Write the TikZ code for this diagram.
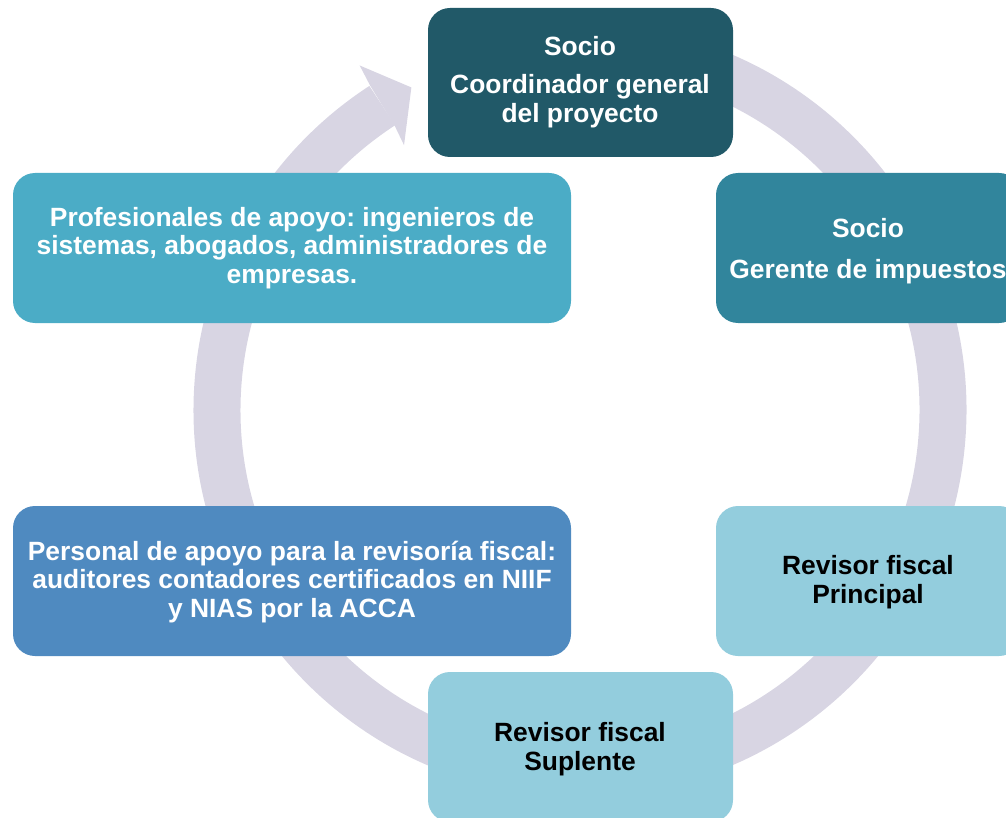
\documentclass[tikz,border=0pt]{standalone}
\usepackage{fontspec}
\setmainfont{Liberation Sans}
\usetikzlibrary{calc}
\definecolor{ringc}{HTML}{D8D5E3}
\definecolor{c1}{HTML}{215968}
\definecolor{c2}{HTML}{31859C}
\definecolor{c3}{HTML}{93CDDD}
\definecolor{c5}{HTML}{4F8AC0}
\definecolor{c6}{HTML}{4BACC6}
\tikzset{
  box/.style={rounded corners=22pt, inner sep=0pt, align=center,
    font=\fontsize{26.4}{28.5}\selectfont\bfseries\frenchspacing},
  whitetext/.style={text=white},
  blacktext/.style={text=black}
}
\begin{document}
\begin{tikzpicture}[x=1pt,y=-1pt]
\useasboundingbox (0,0) rectangle (1006,818);
\clip (0,0) rectangle (1006,818);
\coordinate (c) at (580,410);
% ring
\draw[ringc, line width=47pt] (c) ++(-85:363) arc[start angle=-85, end angle=237, radius=363];
\fill[ringc] ($(c)+(-122.6:409)$) coordinate (w1) -- ($(c)+(-117.6:364)$) coordinate (tip) -- ($(c)+(-123.6:318)$) coordinate (w2) -- ($(c)+(-123.1:339.5)$) -- ($(c)+(-122.9:386.5)$) -- cycle;
% boxes
\fill[c1, rounded corners=22pt] (428,8) rectangle (733,157);
\fill[c2, rounded corners=22pt] (716,173) rectangle (1021,323);
\fill[c3, rounded corners=22pt] (716,506) rectangle (1021,656);
\fill[c3, rounded corners=22pt] (428,672) rectangle (733,822);
\fill[c5, rounded corners=22pt] (13,506) rectangle (571,656);
\fill[c6, rounded corners=22pt] (13,173) rectangle (571,323);
% texts
\node[box, whitetext] (n1) at (580,82) {Socio\\[10pt]Coordinador general\\del proyecto};
\node[box, whitetext] (n2) at (868,251) {Socio\\[13pt]Gerente de impuestos};
\node[box, blacktext] (n3) at (868,582) {Revisor fiscal\\Principal};
\node[box, blacktext] (n4) at (580,749) {Revisor fiscal\\Suplente};
\node[box, whitetext] (n5) at (292,582) {Personal de apoyo para la revisoría fiscal:\\auditores contadores certificados en NIIF\\y NIAS por la ACCA};
\node[box, whitetext] (n6) at (292,248) {Profesionales de apoyo: ingenieros de\\sistemas, abogados, administradores de\\empresas.};
\end{tikzpicture}
\end{document}
